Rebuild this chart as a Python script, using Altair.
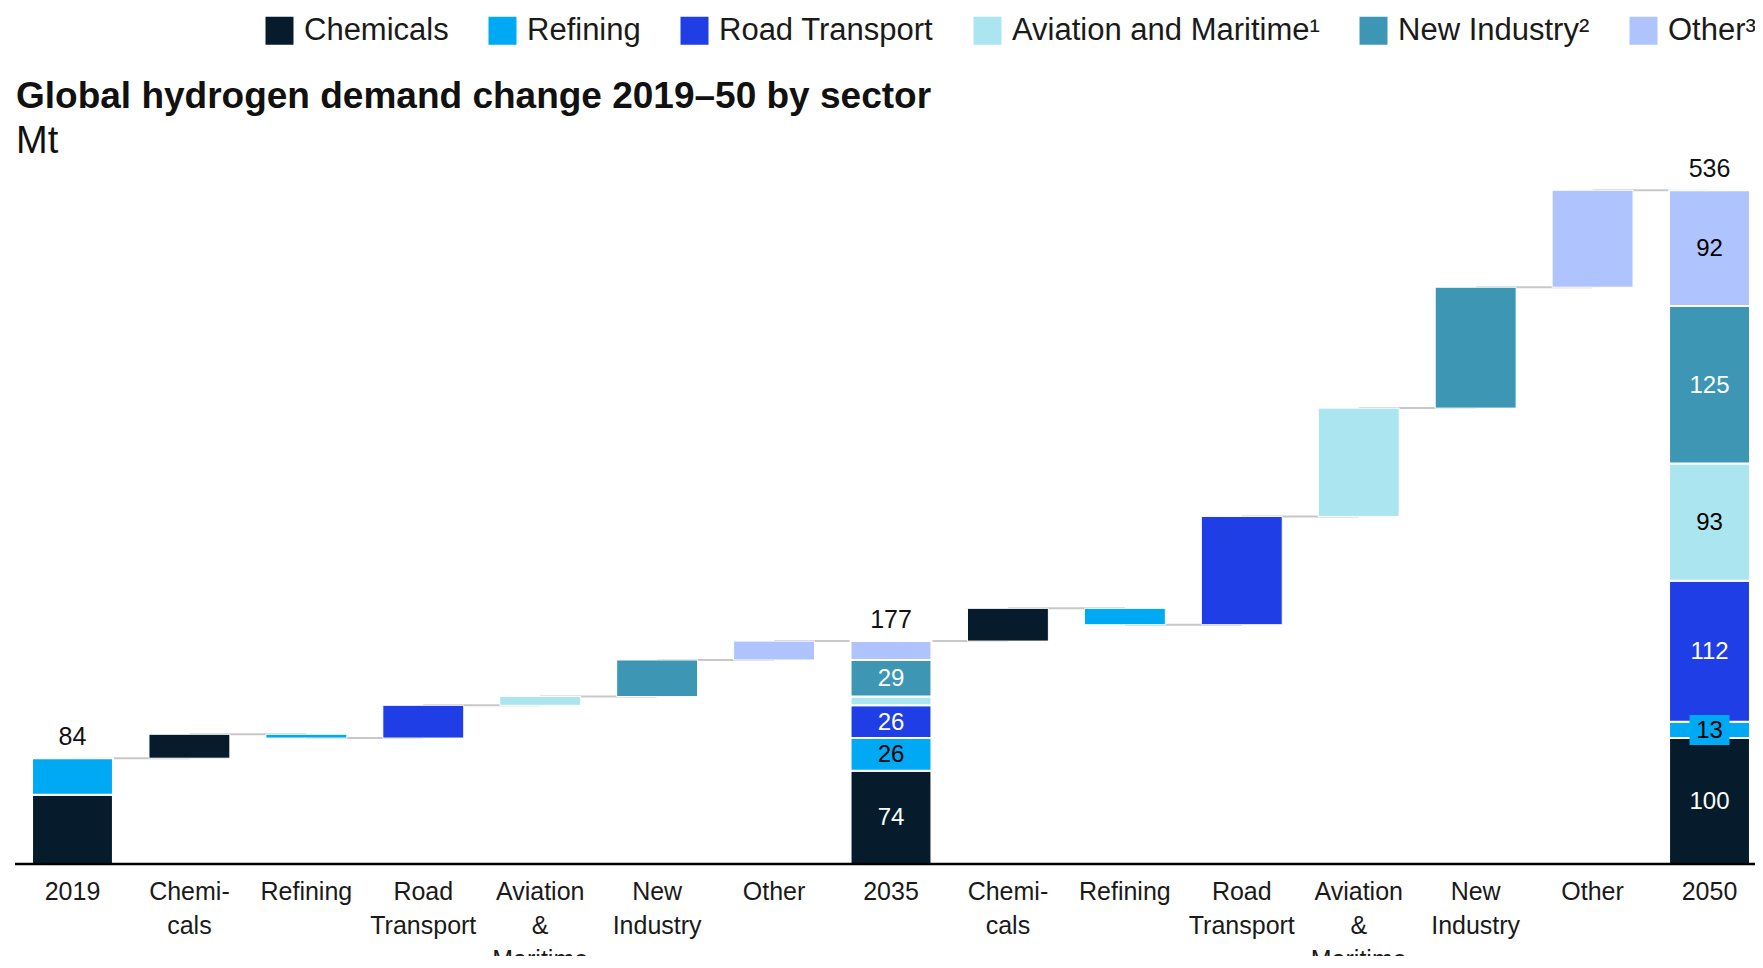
import json
import altair as alt
import pandas as pd

# ---------------- data ----------------
sectors = ["Chemicals", "Refining", "Road Transport", "Aviation and Maritime¹",
           "New Industry²", "Other³"]
sector_colors = ["#061c2c", "#00a9f4", "#1f3ee6", "#abe6f0", "#3c96b4", "#afc3ff"]
value_text_colors = ["#ffffff", "#000000", "#ffffff", "#000000", "#ffffff", "#000000"]

years = ["2019", "2035", "2050"]
demand_2019 = [55, 29, 0, 0, 0, 0]
demand_2035 = [74, 26, 26, 7, 29, 15]
demand_2050 = [100, 13, 112, 93, 125, 92]
total_labels = ["84", "177", "536"]

show_value_2019 = [False, False, False, False, False, False]
show_value_2035 = [True, True, True, False, True, False]
show_value_2050 = [True, True, True, True, True, True]
boxed_value_2050 = [False, True, False, False, False, False]

x_labels = [["2019"], ["Chemi-", "cals"], ["Refining"], ["Road", "Transport"],
            ["Aviation", "&", "Maritime"], ["New", "Industry"], ["Other"], ["2035"],
            ["Chemi-", "cals"], ["Refining"], ["Road", "Transport"],
            ["Aviation", "&", "Maritime"], ["New", "Industry"], ["Other"], ["2050"]]

title_text = "Global hydrogen demand change 2019–50 by sector"
unit_text = "Mt"

# ---------------- tables built from the arrays ----------------
stacks = [demand_2019, demand_2035, demand_2050]
shows = [show_value_2019, show_value_2035, show_value_2050]
boxes = [[False] * 6, [False] * 6, boxed_value_2050]

stack_rows, step_rows, label_rows, total_rows, link_rows = [], [], [], [], []
pos = 0
running = 0
for k, vals in enumerate(stacks):
    if k > 0:
        prev = stacks[k - 1]
        for i, s in enumerate(sectors):
            pos += 1
            start = running
            running = running + (vals[i] - prev[i])
            step_rows.append(dict(pos=pos, sector=s, y0=start, y1=running))
            link_rows.append(dict(pos=pos - 1, pos2=pos, level=start))
        pos += 1
        link_rows.append(dict(pos=pos - 1, pos2=pos, level=running))
    base = 0
    for i, s in enumerate(sectors):
        v = vals[i]
        if v > 0:
            stack_rows.append(dict(pos=pos, sector=s, y0=base, y1=base + v))
            if shows[k][i]:
                label_rows.append(dict(pos=pos, mid=base + v / 2, text=str(v),
                                       tcolor=value_text_colors[i], boxed=boxes[k][i]))
        base += v
    running = base
    total_rows.append(dict(pos=pos, y=base, text=total_labels[k]))

stack_df = pd.DataFrame(stack_rows)
step_df = pd.DataFrame(step_rows)
label_df = pd.DataFrame(label_rows)
total_df = pd.DataFrame(total_rows)
link_df = pd.DataFrame(link_rows)

FONT = "Liberation Sans"
W, H = 1728, 675

x_scale = alt.Scale(paddingInner=0.308, paddingOuter=0.043, round=False)
y_scale = alt.Scale(domain=[0, 536], nice=False, zero=True)
label_expr = json.dumps(x_labels, ensure_ascii=False) + "[datum.value]"

x_enc = alt.X("pos:O", scale=x_scale, sort=None,
              axis=alt.Axis(title=None, labelExpr=label_expr, labelAngle=0, ticks=False,
                            domain=False, labelFontSize=25, labelFont=FONT,
                            labelColor="#1a1a1a", labelPadding=15, labelLineHeight=34,
                            labelBaseline="top", grid=False))

color_enc = alt.Color("sector:N", scale=alt.Scale(domain=sectors, range=sector_colors),
                      legend=alt.Legend(orient="none", legendX=237, legendY=-174,
                                        direction="horizontal", title=None,
                                        symbolType="square", symbolSize=784,
                                        symbolStrokeWidth=0, symbolOpacity=1,
                                        labelFontSize=31, labelFont=FONT,
                                        labelColor="#1a1a1a", labelOffset=9,
                                        columnPadding=38, labelLimit=600, padding=0))

links = alt.Chart(link_df).mark_rule(color="#c8c8c8", strokeWidth=2).encode(
    x=x_enc, x2="pos2:O", y=alt.Y("level:Q", scale=y_scale, axis=None))

steps = alt.Chart(step_df).mark_bar(stroke="white", strokeWidth=1).encode(
    x=x_enc, y=alt.Y("y0:Q", scale=y_scale, axis=None), y2="y1:Q", color=color_enc)

totals = alt.Chart(stack_df).mark_bar(stroke="white", strokeWidth=2).encode(
    x=x_enc, y=alt.Y("y0:Q", scale=y_scale, axis=None), y2="y1:Q", color=color_enc)

baseline = alt.Chart(pd.DataFrame({"t": [0]})).mark_rule(
    color="#000000", strokeWidth=2.5).encode(
    x=alt.value(-12), x2=alt.value(W + 20), y=alt.value(H))

box_path = "M-1,-0.75L1,-0.75L1,0.75L-1,0.75Z"
boxes_layer = alt.Chart(label_df).transform_filter("datum.boxed").mark_point(
    shape=box_path, size=1600, filled=True, opacity=1, strokeWidth=0,
    color=sector_colors[1]).encode(
    x=x_enc, y=alt.Y("mid:Q", scale=y_scale, axis=None))

values = alt.Chart(label_df).mark_text(font=FONT, fontSize=24, baseline="middle",
                                       align="center", dy=1).encode(
    x=x_enc, y=alt.Y("mid:Q", scale=y_scale, axis=None), text="text:N",
    fill=alt.Fill("tcolor:N", scale=None))

total_text = alt.Chart(total_df).mark_text(font=FONT, fontSize=25, baseline="alphabetic",
                                           align="center", dy=-13, color="#111111").encode(
    x=x_enc, y=alt.Y("y:Q", scale=y_scale, axis=None), text="text:N")

title_layer = alt.Chart(pd.DataFrame({"t": [title_text]})).mark_text(
    font=FONT, fontSize=37, fontWeight="bold", align="left", baseline="alphabetic",
    color="#111111").encode(x=alt.value(-11), y=alt.value(-81), text="t:N")

unit_layer = alt.Chart(pd.DataFrame({"t": [unit_text]})).mark_text(
    font=FONT, fontSize=38, align="left", baseline="alphabetic",
    color="#111111").encode(x=alt.value(-11), y=alt.value(-36), text="t:N")

chart = alt.layer(links, steps, totals, baseline, boxes_layer, values, total_text,
                  title_layer, unit_layer).properties(
    width=W, height=H, background="white",
    padding={"left": 19, "top": 181, "right": 0, "bottom": 92},
    autosize=alt.AutoSizeParams(type="none"),
).configure_view(strokeWidth=0, stroke="transparent")

chart.save("out.html", embed_options={"renderer": "svg", "actions": False})
